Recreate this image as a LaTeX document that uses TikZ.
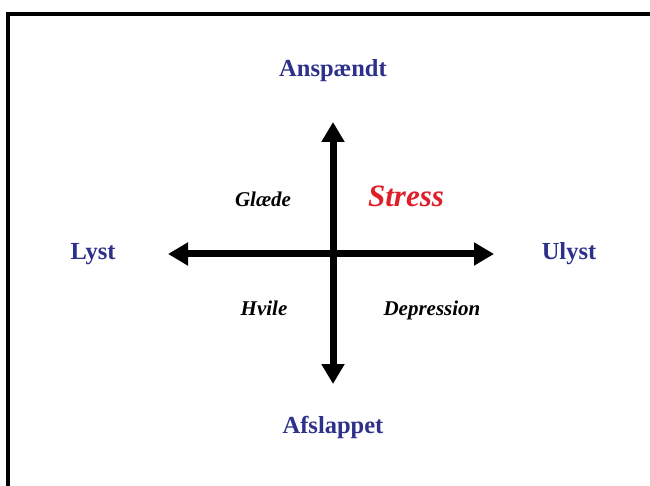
\documentclass[tikz,border=0pt]{standalone}
\usepackage{fontspec}
\setmainfont{Liberation Serif}
\usetikzlibrary{arrows.meta}
\definecolor{axisblue}{RGB}{46,49,140}
\definecolor{stressred}{RGB}{222,30,40}
\tikzset{
  axislabel/.style={text=axisblue, font=\fontsize{24.5}{28}\selectfont\bfseries, anchor=base, inner sep=0pt},
  quadlabel/.style={text=black, font=\fontsize{21}{24}\selectfont\bfseries\itshape, anchor=base, inner sep=0pt},
  stresslabel/.style={text=stressred, font=\fontsize{31}{34}\selectfont\bfseries\itshape, anchor=base, inner sep=0pt},
  axisarrow/.style={line width=7pt, -{Triangle[length=20pt,width=22pt]}},
}
\begin{document}
\begin{tikzpicture}[x=1pt,y=-1pt]
\useasboundingbox (0,0) rectangle (650,486);
\fill[white] (0,0) rectangle (650,486);
\clip (0,0) rectangle (650,486);
\draw[line width=3.5pt] (8,14) rectangle (670,510);
\coordinate (O) at (333,254);
\coordinate (top) at (333,122);
\coordinate (bottom) at (333,384);
\coordinate (left) at (168,254);
\coordinate (right) at (494,254);
\draw[axisarrow] (O) -- (top);
\draw[axisarrow] (O) -- (bottom);
\draw[axisarrow] (O) -- (left);
\draw[axisarrow] (O) -- (right);
\node[axislabel] (ansp) at (333,77) {Anspændt};
\node[axislabel] (afsl) at (333,433) {Afslappet};
\node[axislabel] (lyst) at (93,260) {Lyst};
\node[axislabel] (ulyst) at (569,260) {Ulyst};
\node[quadlabel] (glaede) at (263,207) {Glæde};
\node[stresslabel] (stress) at (406,207) {Stress};
\node[quadlabel] (hvile) at (264,315) {Hvile};
\node[quadlabel] (depr) at (432,315) {Depression};
\end{tikzpicture}
\end{document}
